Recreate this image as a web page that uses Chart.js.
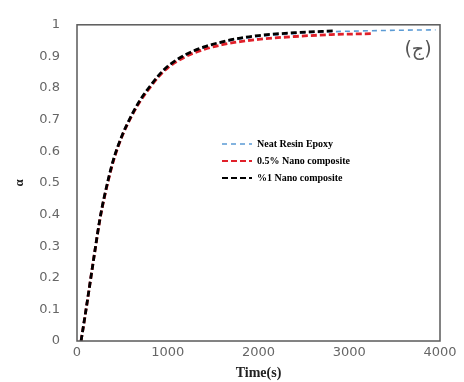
<!DOCTYPE html>
<html>
<head>
<meta charset="utf-8">
<script src="https://cdn.jsdelivr.net/npm/chart.js@4"></script>
<style>
  html, body { margin: 0; padding: 0; background: #fff; }
  #wrap { width: 464px; height: 382px; }
</style>
</head>
<body>
<div id="wrap"><canvas id="cure-chart" width="464" height="382"></canvas></div>
<script>
// values
const neatTime = [40, 100, 150, 200, 250, 300, 400, 500, 600, 700, 800, 900, 1000, 1200, 1400, 1600, 1800, 2000, 2400, 2800, 3200, 3600, 3950];
const neatAlpha = [0, 0.11, 0.205, 0.30, 0.39, 0.46, 0.575, 0.655, 0.715, 0.765, 0.805, 0.84, 0.868, 0.905, 0.928, 0.944, 0.955, 0.963, 0.972, 0.978, 0.981, 0.983, 0.984];

const nano05Time = [45, 100, 150, 200, 250, 300, 400, 500, 600, 700, 800, 900, 1000, 1200, 1400, 1600, 1800, 2000, 2400, 2800, 3250];
const nano05Alpha = [0, 0.10, 0.195, 0.29, 0.38, 0.452, 0.568, 0.65, 0.71, 0.76, 0.80, 0.836, 0.864, 0.90, 0.922, 0.937, 0.947, 0.954, 0.963, 0.969, 0.972];

const nano1Time = [45, 100, 150, 200, 250, 300, 400, 500, 600, 700, 800, 900, 1000, 1200, 1400, 1600, 1800, 2000, 2400, 2850];
const nano1Alpha = [0, 0.10, 0.195, 0.29, 0.382, 0.455, 0.572, 0.652, 0.713, 0.764, 0.804, 0.84, 0.869, 0.906, 0.93, 0.946, 0.958, 0.966, 0.975, 0.981];

const seriesNames = ['Neat Resin Epoxy', '0.5% Nano composite', '%1 Nano composite'];
const xTickLabels = ['0', '1000', '2000', '3000', '4000'];
const yTickLabels = ['0', '0.1', '0.2', '0.3', '0.4', '0.5', '0.6', '0.7', '0.8', '0.9', '1'];

function toPoints(xs, ys) {
    return xs.map((x, i) => ({ x: x, y: ys[i] }));
}

// box around the plot, the inner legend and the (ج) mark
const framePlugin = {
    id: 'frame',
    afterDraw(chart) {
        const ctx = chart.ctx;
        const a = chart.chartArea;
        ctx.save();
        ctx.strokeStyle = '#5a5a5a';
        ctx.lineWidth = 1.5;
        ctx.setLineDash([]);
        ctx.strokeRect(a.left, a.top, a.right - a.left, a.bottom - a.top);

        ctx.fillStyle = '#555';
        ctx.font = '19px "DejaVu Sans"';
        ctx.textAlign = 'center';
        ctx.textBaseline = 'middle';
        ctx.fillText('(ج)', 418, 50);

        ctx.font = 'bold 10px "Liberation Serif"';
        ctx.textAlign = 'left';
        chart.data.datasets.forEach((ds, i) => {
            const y = 144 + i * 17;
            ctx.strokeStyle = ds.borderColor;
            ctx.lineWidth = ds.legendWidth;
            ctx.setLineDash(ds.borderDash);
            ctx.beginPath();
            ctx.moveTo(222, y);
            ctx.lineTo(252, y);
            ctx.stroke();
            ctx.fillStyle = '#000';
            ctx.fillText(ds.label, 257, y);
        });
        ctx.restore();
    }
};

const ctx = document.getElementById('cure-chart').getContext('2d');
const chart = new Chart(ctx, {
    type: 'line',
    data: {
        datasets: [
            {
                label: seriesNames[0],
                data: toPoints(neatTime, neatAlpha),
                borderColor: '#5b9bd5',
                borderWidth: 1.6,
                legendWidth: 1.6,
                borderDash: [5, 4],
                order: 3
            },
            {
                label: seriesNames[1],
                data: toPoints(nano05Time, nano05Alpha),
                borderColor: '#e0202a',
                borderWidth: 2.8,
                legendWidth: 2.2,
                borderDash: [6, 3],
                order: 2
            },
            {
                label: seriesNames[2],
                data: toPoints(nano1Time, nano1Alpha),
                borderColor: '#000000',
                borderWidth: 2.8,
                legendWidth: 2.2,
                borderDash: [6, 3],
                order: 1
            }
        ]
    },
    options: {
        responsive: false,
        animation: false,
        layout: { padding: { top: 16, right: 24, left: 0, bottom: 0 } },
        elements: {
            point: { radius: 0 },
            line: { cubicInterpolationMode: 'monotone', fill: false }
        },
        plugins: {
            legend: { display: false },
            tooltip: { enabled: false }
        },
        scales: {
            x: {
                type: 'linear',
                min: 0,
                max: 4000,
                grid: { display: false, drawTicks: false },
                border: { display: false },
                afterFit: s => { s.height = 41; },
                ticks: {
                    stepSize: 1000,
                    padding: 4,
                    color: '#666',
                    font: { family: 'DejaVu Sans', size: 13 },
                    callback: (v, i) => xTickLabels[i]
                },
                title: {
                    display: true,
                    text: 'Time(s)',
                    color: '#222',
                    padding: { top: -3, bottom: 0 },
                    font: { family: 'Liberation Serif', size: 14, weight: 'bold' }
                }
            },
            y: {
                min: 0,
                max: 1,
                grid: { display: false, drawTicks: false },
                border: { display: false },
                afterFit: s => { s.width = 77; },
                ticks: {
                    stepSize: 0.1,
                    padding: 17,
                    color: '#666',
                    font: { family: 'DejaVu Sans', size: 13 },
                    callback: (v, i) => yTickLabels[i]
                },
                title: {
                    display: true,
                    text: 'α',
                    color: '#222',
                    padding: { top: 12, bottom: 0 },
                    font: { family: 'Liberation Serif', size: 13, weight: 'bold' }
                }
            }
        }
    },
    plugins: [framePlugin]
});
</script>
</body>
</html>
